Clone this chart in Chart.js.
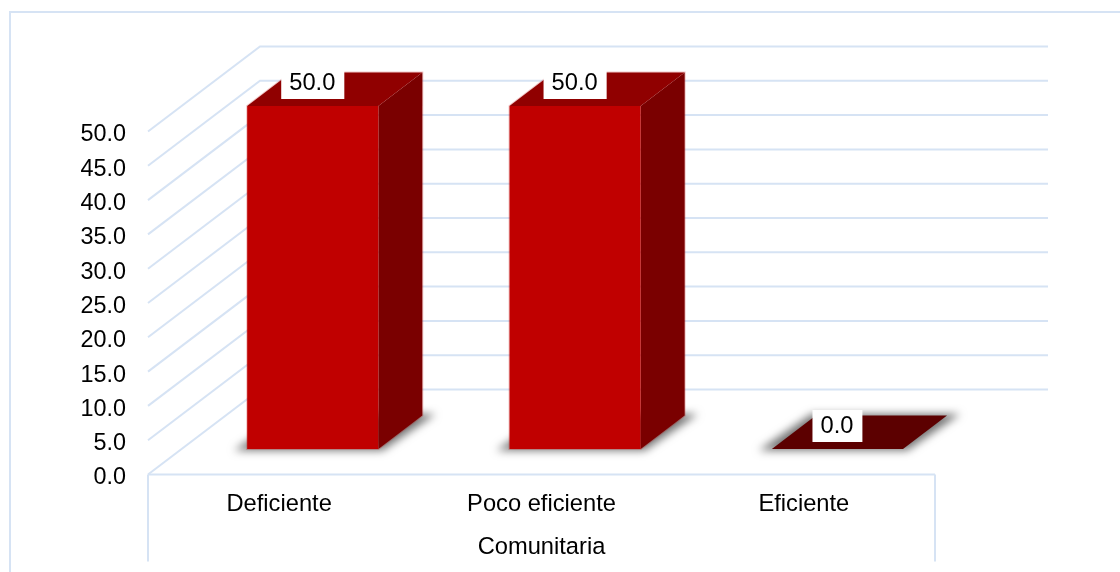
<!DOCTYPE html>
<html>
<head>
<meta charset="utf-8">
<style>html,body{margin:0;padding:0;background:#fff}canvas{display:block}</style>
<script src="https://cdn.jsdelivr.net/npm/chart.js@4"></script>
</head>
<body>
<canvas id="c" width="1120" height="572"></canvas>
<script>
const categories = ["Deficiente", "Poco eficiente", "Eficiente"];
const values = [50.0, 50.0, 0.0];
const axisMin = 0, axisMax = 50, axisStep = 5;
const axisTitle = "Comunitaria";

const FONT = '"Liberation Sans", Arial, sans-serif';
const GRID = '#d6e3f4';
const WALL = {dx: 112, dy: 85};
const BAR  = {dx: 44,  dy: 33.5};
const SHIFT = {x: 33.6, y: 25.5};
const FRONT = '#c00000', SIDE = '#7a0000', TOP = '#900000', FLAT = '#5c0000';

function poly(ctx, pts){
  ctx.beginPath();
  pts.forEach((p,i)=> i ? ctx.lineTo(p[0],p[1]) : ctx.moveTo(p[0],p[1]));
  ctx.closePath();
}
function line(ctx, pts){
  ctx.beginPath();
  pts.forEach((p,i)=> i ? ctx.lineTo(p[0],p[1]) : ctx.moveTo(p[0],p[1]));
  ctx.stroke();
}

const box3d = {
  id: 'box3d',
  beforeDraw(chart){
    const ctx = chart.ctx;
    ctx.save();
    ctx.fillStyle = '#fff';
    ctx.fillRect(0,0,chart.width,chart.height);
    ctx.strokeStyle = GRID; ctx.lineWidth = 2;
    line(ctx, [[10,chart.height],[10,12],[chart.width,12]]);
    ctx.restore();
  },
  beforeDatasetsDraw(chart){
    const ctx = chart.ctx, a = chart.chartArea, y = chart.scales.y;
    ctx.save();
    ctx.strokeStyle = GRID; ctx.lineWidth = 2;
    y.ticks.forEach(t=>{
      const py = y.getPixelForValue(t.value);
      line(ctx, [[a.left,py],[a.left+WALL.dx,py-WALL.dy],[a.right+WALL.dx+1,py-WALL.dy]]);
    });
    // floor front edge and the two outer category separators
    line(ctx, [[a.left,a.bottom],[a.right,a.bottom]]);
    line(ctx, [[a.left,a.bottom],[a.left,561.5]]);
    line(ctx, [[a.right,a.bottom],[a.right,561.5]]);
    ctx.restore();

    ctx.save();
    ctx.translate(SHIFT.x,-SHIFT.y);
    const meta = chart.getDatasetMeta(0);
    // floor shadows: only the blurred shadow of a widened floor outline is painted
    meta.data.forEach(el=>{
      const l = el.x-el.width/2, r = el.x+el.width/2, b = el.base;
      const far = 3000;
      ctx.save();
      ctx.shadowColor = 'rgba(0,0,0,0.55)';
      ctx.shadowBlur = 8;
      ctx.shadowOffsetX = far;
      ctx.fillStyle = '#000';
      poly(ctx, [[l-13-far,b+1.5],[r+4-far,b+1.5],[r+BAR.dx+13-far,b-BAR.dy-1.5],[l+BAR.dx-4-far,b-BAR.dy-1.5]]);
      ctx.fill();
      ctx.restore();
    });
    // side and top faces
    meta.data.forEach(el=>{
      const l = el.x-el.width/2, r = el.x+el.width/2, t = el.y, b = el.base;
      const flat = Math.abs(b-t) < 0.5;
      if(!flat){
        ctx.strokeStyle = 'rgba(192,0,0,0.22)';
        ctx.lineWidth = 2;
        poly(ctx, [[l,t],[l+BAR.dx,t-BAR.dy],[r+BAR.dx,t-BAR.dy],[r+BAR.dx,b-BAR.dy],[r,b],[l,b]]);
        ctx.stroke();
        ctx.fillStyle = SIDE;
        poly(ctx, [[r,t],[r+BAR.dx,t-BAR.dy],[r+BAR.dx,b-BAR.dy],[r,b]]);
        ctx.fill();
      }
      ctx.fillStyle = flat ? FLAT : TOP;
      poly(ctx, [[l,t],[r,t],[r+BAR.dx,t-BAR.dy],[l+BAR.dx,t-BAR.dy]]);
      ctx.fill();
    });
  },
  afterDatasetsDraw(chart){
    const ctx = chart.ctx;
    const meta = chart.getDatasetMeta(0);
    ctx.font = '23.7px '+FONT;
    ctx.textAlign = 'center'; ctx.textBaseline = 'middle';
    meta.data.forEach((el,i)=>{
      const s = values[i].toFixed(1);
      const w = ctx.measureText(s).width + 17;
      const cy = el.y - 24;
      ctx.fillStyle = '#fff';
      ctx.fillRect(el.x-w/2, cy-15, w, 32);
      ctx.fillStyle = '#000';
      ctx.fillText(s, el.x-0.5, cy+1);
    });
    ctx.restore();
  }
};

new Chart(document.getElementById('c'), {
  type: 'bar',
  data: {
    labels: categories,
    datasets: [{
      data: values,
      backgroundColor: FRONT,
      categoryPercentage: 1,
      barPercentage: 0.5,
      borderWidth: 0,
      clip: false
    }]
  },
  plugins: [box3d],
  options: {
    responsive: false,
    animation: false,
    events: [],
    layout: {padding: {top: 131.5, right: 185, left: 0, bottom: 0}},
    plugins: {legend: {display: false}, tooltip: {enabled: false}, title: {display: false}},
    scales: {
      x: {
        grid: {display: false},
        border: {display: false},
        ticks: {color: '#000', font: {family: FONT, size: 23.7}, padding: 8, maxRotation: 0},
        title: {display: true, text: axisTitle, color: '#000', font: {family: FONT, size: 23.7}, padding: {top: 0, bottom: 10}},
        afterFit(s){ s.height = 97.5; }
      },
      y: {
        min: axisMin, max: axisMax,
        grid: {display: false},
        border: {display: false},
        ticks: {stepSize: axisStep, color: '#000', font: {family: FONT, size: 23.4}, padding: 14, labelOffset: 3.5,
                callback: v => Number(v).toFixed(1)},
        afterFit(s){ s.width = 148; }
      }
    }
  }
});
</script>
</body>
</html>
